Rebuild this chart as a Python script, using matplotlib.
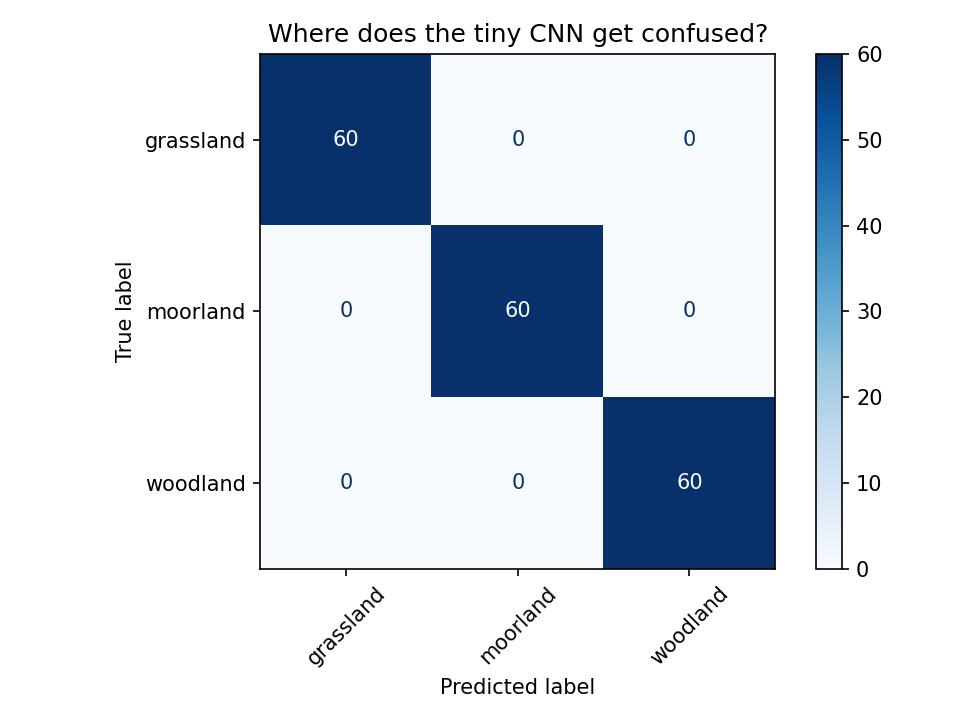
import matplotlib
matplotlib.use("Agg")
import matplotlib.pyplot as plt
import numpy as np

classes = ["grassland", "moorland", "woodland"]
row_grassland = [60, 0, 0]
row_moorland = [0, 60, 0]
row_woodland = [0, 0, 60]

cm = np.array([row_grassland, row_moorland, row_woodland])
n = len(classes)

fig, ax = plt.subplots(figsize=(6.4, 4.8), dpi=150)
cmap = plt.get_cmap("Blues")
im = ax.imshow(cm, interpolation="nearest", cmap=cmap)

# text colour flips at the midpoint, like sklearn's display
thresh = (cm.max() + cm.min()) / 2.0
for i in range(n):
    for j in range(n):
        color = cmap(0.0) if cm[i, j] >= thresh else cmap(1.0)
        ax.text(j, i, format(cm[i, j], "d"), ha="center", va="center", color=color)

fig.colorbar(im, ax=ax)
ax.set(xticks=np.arange(n), yticks=np.arange(n),
       xticklabels=classes, yticklabels=classes,
       ylabel="True label", xlabel="Predicted label")
ax.set_ylim((n - 0.5, -0.5))
plt.setp(ax.get_xticklabels(), rotation=45)
ax.set_title("Where does the tiny CNN get confused?")

fig.tight_layout()
fig.savefig("out.png", dpi=150)
